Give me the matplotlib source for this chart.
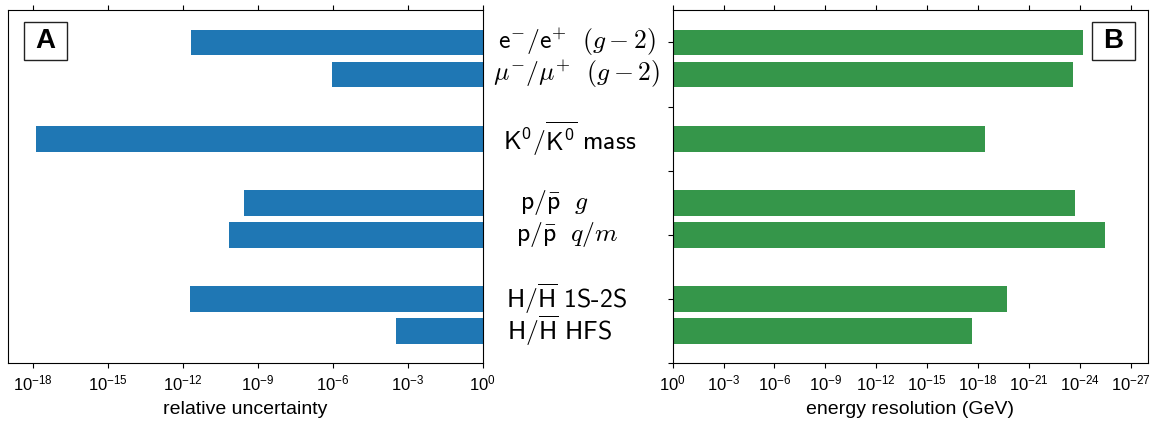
import matplotlib
matplotlib.use("Agg")
import matplotlib.pyplot as plt
import matplotlib.transforms as mtransforms
from matplotlib.patches import Rectangle
from matplotlib.ticker import FixedLocator, NullLocator, LogFormatterSciNotation

plt.rcParams['font.family'] = ['Liberation Sans', 'DejaVu Sans']
plt.rcParams['mathtext.fontset'] = 'cm'

# Measurements, one row per experiment (top to bottom)
labels = [
    r'$\mathdefault{e}^{-}/\mathdefault{e}^{+}\ \ (g-2)$',
    r'$\mu^{-}/\mu^{+}\ \ (g-2)$',
    r'$\mathdefault{K}^{\mathdefault{0}}/\overline{\mathdefault{K}^{\mathdefault{0}}}\ \mathdefault{mass}$',
    r'$\mathdefault{p}/\bar{\mathdefault{p}}\ \ g$',
    r'$\mathdefault{p}/\bar{\mathdefault{p}}\ \ q/m$',
    r'$\mathdefault{H}/\overline{\mathdefault{H}}$ 1S-2S',
    r'$\mathdefault{H}/\overline{\mathdefault{H}}$ HFS',
]
rows = [0, 1, 3, 5, 6, 8, 9]
relative_uncertainty = [2.1e-12, 9e-7, 1.3e-18, 2.8e-10, 7e-11, 1.9e-12, 3.4e-4]
energy_resolution = [6.4e-25, 2.5e-24, 3.9e-19, 1.9e-24, 3.2e-26, 1.9e-20, 2.2e-18]

left_ticks = [1e-18, 1e-15, 1e-12, 1e-9, 1e-6, 1e-3, 1e0]
right_ticks = [1e0, 1e-3, 1e-6, 1e-9, 1e-12, 1e-15, 1e-18, 1e-21, 1e-24, 1e-27]
label_x = [577, 577, 570, 554, 567, 567, 560]  # horizontal centres of row labels (px)

W, H = 1161, 421
fig = plt.figure(figsize=(W / 100, H / 100), dpi=100)
ax_a = fig.add_axes([8.3 / W, 1 - 363.3 / H, (482.7 - 8.3) / W, (363.3 - 10.3) / H])
ax_b = fig.add_axes([672.7 / W, 1 - 363.3 / H, (1147.7 - 672.7) / W, (363.3 - 10.3) / H])

blue = '#1f77b4'
green = '#35964a'

# Both panels: each bar spans from its value to 1
ax_a.barh(rows, [1 - v for v in relative_uncertainty], left=relative_uncertainty,
          height=0.8, color=blue)
ax_b.barh(rows, [1 - v for v in energy_resolution], left=energy_resolution,
          height=0.8, color=green)

for ax, lim, ticks, xlabel in [
    (ax_a, (1e-19, 1e0), left_ticks, 'relative uncertainty'),
    (ax_b, (1e0, 1e-28), right_ticks, 'energy resolution (GeV)'),
]:
    ax.set_xscale('log')
    ax.set_xlim(*lim)
    ax.set_ylim(10, -1)
    ax.xaxis.set_major_locator(FixedLocator(ticks))
    ax.xaxis.set_major_formatter(LogFormatterSciNotation())
    ax.xaxis.set_minor_locator(NullLocator())
    ax.tick_params(axis='x', top=True, labelsize=12)
    ax.set_xlabel(xlabel, fontsize=14, labelpad=6)

ax_a.set_yticks([])
ax_b.set_yticks([0, 2, 4, 6, 8, 10])
ax_b.set_yticklabels([])

# Row labels between the panels
trans = mtransforms.blended_transform_factory(fig.transFigure, ax_b.transData)
for lab, y, xc in zip(labels, rows, label_x):
    fig.text(xc / W, y, lab, transform=trans, ha='center', va='center',
             fontsize=18.5, family='cmss10')

# Boxed panel letters
for ax, letter, (x0, x1) in [(ax_a, 'A', (0.0331, 0.1237)), (ax_b, 'B', (0.8827, 0.9733))]:
    y0, y1 = 0.8592, 0.9669
    ax.add_patch(Rectangle((x0, y0), x1 - x0, y1 - y0, transform=ax.transAxes,
                           facecolor='white', edgecolor='#222222', linewidth=1.0, zorder=5))
    ax.text((x0 + x1) / 2, (y0 + y1) / 2, letter, transform=ax.transAxes,
            ha='center', va='center', fontsize=20, fontweight='bold', zorder=6)

fig.savefig('out.png', dpi=100)
